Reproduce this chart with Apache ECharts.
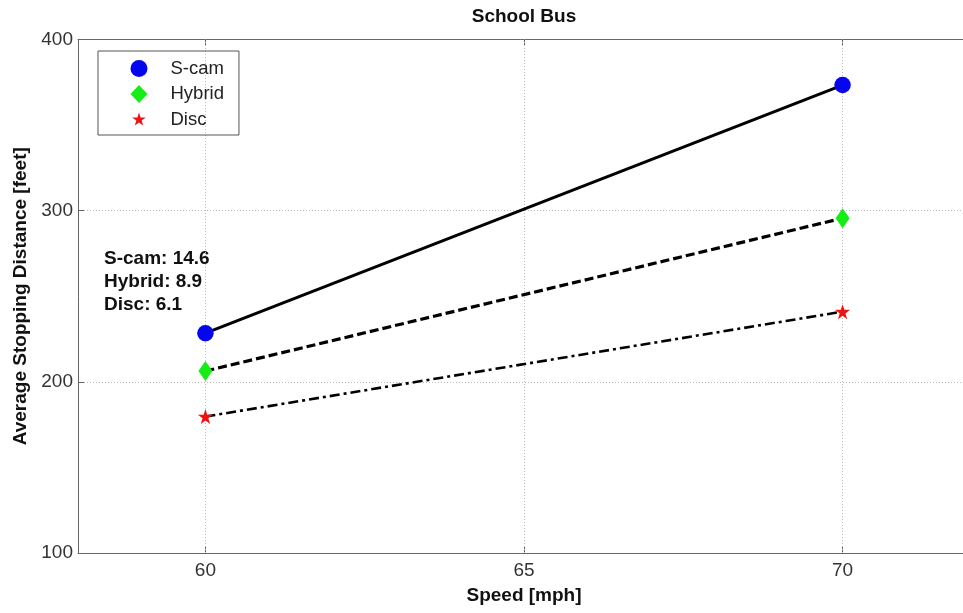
<!DOCTYPE html>
<html>
<head>
<meta charset="utf-8">
<script src="https://cdn.jsdelivr.net/npm/echarts@6/dist/echarts.min.js"></script>
<style>
html,body{margin:0;padding:0;background:#fff;}
#chart{width:963px;height:613px;}
</style>
</head>
<body>
<div id="chart"></div>
<script>
const speeds = [60, 70];
const scam = [228.4, 373.4];
const hybrid = [206.3, 295.6];
const disc = [179.7, 241];
const seriesNames = ['S-cam', 'Hybrid', 'Disc'];
const annotations = ['S-cam: 14.6', 'Hybrid: 8.9', 'Disc: 6.1'];
const xTicks = [60, 65, 70];
const yTicks = [100, 200, 300, 400];

const starPath = 'path://M50,0 L61.8,35.3 L98.9,35.3 L68.9,57.1 L80.3,92.7 L50,70.9 L19.7,92.7 L31.1,57.1 L1.1,35.3 L38.2,35.3 Z';
const starLegendPath = 'path://M-11,-10 M111,110 M50,0 L61.8,35.3 L98.9,35.3 L68.9,57.1 L80.3,92.7 L50,70.9 L19.7,92.7 L31.1,57.1 L1.1,35.3 L38.2,35.3 Z';
const FONT = 'Liberation Sans, Arial, Helvetica, sans-serif';
const BLUE = '#0505f0', GREEN = '#14ee14', RED = '#ee1212';

function pairs(vals) { return speeds.map((s, i) => [s, vals[i]]); }

const chart = echarts.init(document.getElementById('chart'));
chart.setOption({
  animation: false,
  backgroundColor: '#fff',
  grid: { left: 78, width: 892, top: 39.5, height: 513.5, outerBoundsMode: 'none', containLabel: false },
  legend: {
    orient: 'vertical',
    left: 98, top: 51,
    data: [
      { name: 'S-cam', icon: 'circle', itemStyle: { color: BLUE, opacity: 1 } },
      { name: 'Hybrid', icon: 'diamond', itemStyle: { color: GREEN, opacity: 1 } },
      { name: 'Disc', icon: starLegendPath, itemStyle: { color: RED, opacity: 1 } }
    ],
    itemWidth: 17, itemHeight: 18, itemGap: 6.5,
    padding: [8, 15, 6, 32.5],
    borderColor: '#555', borderWidth: 1, borderRadius: 0,
    textStyle: { fontFamily: FONT, fontSize: 18.5, color: '#222', padding: [0, 0, 0, 18] }
  },
  xAxis: [{
    type: 'value', min: 58, max: 72, interval: 1,
    name: 'Speed [mph]', nameLocation: 'middle', nameGap: 33,
    nameTextStyle: { fontFamily: FONT, fontSize: 19, fontWeight: 'bold', color: '#111' },
    axisLine: { show: true, onZero: false, lineStyle: { color: '#666', width: 1 } },
    axisTick: { show: true, inside: true, length: 6, customValues: xTicks, lineStyle: { color: '#666' } },
    axisLabel: { fontFamily: FONT, fontSize: 19, color: '#333', margin: 8, customValues: xTicks },
    splitLine: { show: false }
  }, {
    type: 'value', min: 58, max: 72, interval: 1, position: 'top',
    axisLine: { show: true, onZero: false, lineStyle: { color: '#666', width: 1 } },
    axisTick: { show: true, inside: true, length: 6, customValues: xTicks, lineStyle: { color: '#666' } },
    axisLabel: { show: false }, splitLine: { show: false }
  }],
  yAxis: {
    type: 'value', min: 100, max: 400, interval: 100,
    name: 'Average Stopping Distance [feet]', nameLocation: 'middle', nameGap: 47,
    nameTextStyle: { fontFamily: FONT, fontSize: 19, fontWeight: 'bold', color: '#111' },
    axisLine: { show: true, onZero: false, lineStyle: { color: '#666', width: 1 } },
    axisTick: { show: true, inside: true, length: 6, lineStyle: { color: '#666' } },
    axisLabel: { fontFamily: FONT, fontSize: 19, color: '#333', margin: 5 },
    splitLine: { show: true, lineStyle: { color: '#bbb', type: [1, 2], width: 1 } }
  },
  graphic: [
    { type: 'text', x: 524, y: 16.5,
      style: { text: 'School Bus', font: 'bold 19px ' + FONT, fill: '#111', align: 'center', verticalAlign: 'middle' } }
  ].concat(annotations.map((t, i) => ({
    type: 'text', x: 104, y: 258.5 + i * 23,
    style: { text: t, font: 'bold 19px ' + FONT, fill: '#111', verticalAlign: 'middle' }
  }))),
  series: [
    { name: 'grid-x', type: 'line', data: [], silent: true,
      markLine: { silent: true, symbol: 'none', z: 1, label: { show: false },
        lineStyle: { color: '#bbb', type: [1, 2], width: 1 },
        data: xTicks.map(v => ({ xAxis: v })) } },
    { name: 'S-cam-line', type: 'line', data: pairs(scam), showSymbol: false, silent: true,
      lineStyle: { color: '#000', width: 3, type: 'solid' }, z: 2 },
    { name: 'Hybrid-line', type: 'line', data: pairs(hybrid), showSymbol: false, silent: true,
      lineStyle: { color: '#000', width: 3.2, type: [9, 4] }, z: 2 },
    { name: 'Disc-line', type: 'line', data: pairs(disc), showSymbol: false, silent: true,
      lineStyle: { color: '#000', width: 2.6, type: [10, 4, 3, 4] }, z: 2 },
    { name: 'S-cam', type: 'scatter', data: pairs(scam), symbol: 'circle', symbolSize: 16.5,
      itemStyle: { color: BLUE, opacity: 1 }, z: 3 },
    { name: 'Hybrid', type: 'scatter', data: pairs(hybrid), symbol: 'diamond', symbolSize: [14, 20],
      itemStyle: { color: GREEN, opacity: 1 }, z: 3 },
    { name: 'Disc', type: 'scatter', data: pairs(disc), symbol: starPath, symbolSize: 15,
      itemStyle: { color: RED, opacity: 1 }, z: 3 }
  ]
});
</script>
</body>
</html>
